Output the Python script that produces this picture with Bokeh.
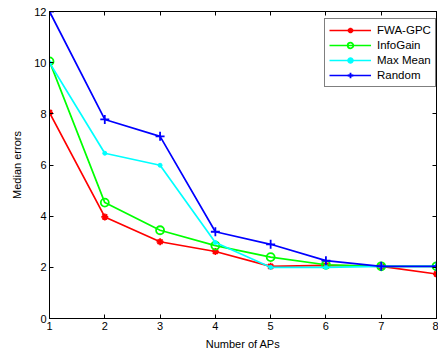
from bokeh.plotting import figure
from bokeh.models import LinearAxis, FixedTicker, Legend, LegendItem, Range1d
from bokeh.embed import file_html
from bokeh.resources import INLINE

# Number of access points selected
num_aps = [1, 2, 3, 4, 5, 6, 7, 8]

# Median localisation error for each selection strategy
fwa_gpc = [8.05, 3.97, 3.0, 2.62, 2.04, 2.08, 2.04, 1.74]
info_gain = [10.05, 4.53, 3.45, 2.85, 2.4, 2.1, 2.04, 2.04]
max_mean = [10.0, 6.46, 5.99, 2.97, 2.0, 2.0, 2.04, 2.04]
random_sel = [12.0, 7.78, 7.12, 3.39, 2.9, 2.26, 2.04, 2.04]

x_ticks = [1, 2, 3, 4, 5, 6, 7, 8]
y_ticks = [0, 2, 4, 6, 8, 10, 12]

FONT = "Liberation Sans"

p = figure(
    width=438, height=352,
    output_backend="svg", toolbar_location=None,
    x_range=Range1d(1, 8), y_range=Range1d(0, 12),
    min_border_left=49, min_border_right=2,
    min_border_top=11, min_border_bottom=34,
    background_fill_color="white", border_fill_color="white",
)
p.grid.visible = False
p.outline_line_color = "black"
p.outline_line_width = 1

def style_axis(ax, labels=True):
    ax.axis_line_color = "black"
    ax.axis_line_width = 1
    ax.major_tick_in = 4
    ax.major_tick_out = 0
    ax.major_tick_line_color = "black"
    ax.minor_tick_line_color = None
    ax.major_label_text_font = FONT
    ax.major_label_text_font_size = "11px"
    if labels:
        ax.major_label_text_color = "black"
        ax.major_label_standoff = 3
    else:
        # tick marks only on the box edges
        ax.major_label_text_color = None
        ax.major_label_standoff = 0

p.xaxis.ticker = FixedTicker(ticks=x_ticks)
p.yaxis.ticker = FixedTicker(ticks=y_ticks)
style_axis(p.xaxis[0])
style_axis(p.yaxis[0])
p.xaxis.axis_label = "Number of APs"
p.yaxis.axis_label = "Median errors"
for ax in (p.xaxis[0], p.yaxis[0]):
    ax.axis_label_text_font = FONT
    ax.axis_label_text_font_size = "11px"
    ax.axis_label_text_font_style = "normal"
    ax.axis_label_text_color = "black"
p.xaxis.axis_label_standoff = 5
p.yaxis.axis_label_standoff = 8

top_ax = LinearAxis(ticker=FixedTicker(ticks=x_ticks))
right_ax = LinearAxis(ticker=FixedTicker(ticks=y_ticks))
style_axis(top_ax, labels=False)
style_axis(right_ax, labels=False)
p.add_layout(top_ax, "above")
p.add_layout(right_ax, "right")

LW = 1.7
items = []

r1 = p.line(num_aps, fwa_gpc, line_color="#ff0000", line_width=LW)
m1 = p.scatter(num_aps, fwa_gpc, marker="asterisk", size=7, line_color="#ff0000", line_width=1.8)
items.append(LegendItem(label="FWA-GPC", renderers=[r1, m1]))

r2 = p.line(num_aps, info_gain, line_color="#00ff00", line_width=LW)
m2 = p.scatter(num_aps, info_gain, marker="circle", size=8, line_color="#00ff00",
               fill_color=None, line_width=1.8)
items.append(LegendItem(label="InfoGain", renderers=[r2, m2]))

r3 = p.line(num_aps, max_mean, line_color="#00ffff", line_width=LW)
m3 = p.scatter(num_aps, max_mean, marker="circle", size=4, line_color="#00ffff",
               fill_color="#00ffff")
items.append(LegendItem(label="Max Mean", renderers=[r3, m3]))

r4 = p.line(num_aps, random_sel, line_color="#0000ff", line_width=LW)
m4 = p.scatter(num_aps, random_sel, marker="cross", size=9, line_color="#0000ff", line_width=1.8)
items.append(LegendItem(label="Random", renderers=[r4, m4]))

legend = Legend(
    items=items,
    location=(275, 231),
    border_line_color="black", border_line_width=1.5,
    background_fill_color="white", background_fill_alpha=1,
    label_text_font=FONT, label_text_font_size="11.5px", label_text_color="black",
    glyph_width=42, glyph_height=14, label_height=14,
    label_standoff=6, padding=4, spacing=1, margin=0,
)
p.add_layout(legend, "center")

open("out.html", "w").write(file_html(p, INLINE))
